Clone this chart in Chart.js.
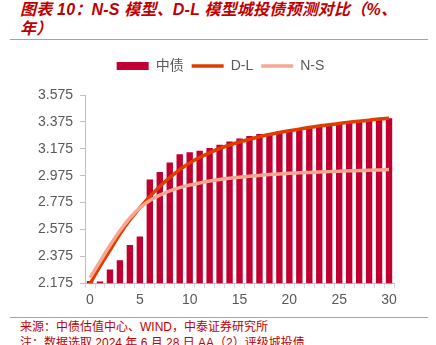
<!DOCTYPE html>
<html>
<head>
<meta charset="utf-8">
<script src="https://cdn.jsdelivr.net/npm/chart.js@4.4.1/dist/chart.umd.min.js"></script>
<style>
  body { margin: 0; width: 436px; height: 345px; overflow: hidden; background: #fff; position: relative; }
  .title {
    position: absolute; left: 20px; top: 0px; width: 410px;
    font-family: "Liberation Sans", "Noto Sans CJK SC", sans-serif;
    font-weight: bold; font-style: italic; font-size: 16px; line-height: 19px;
    color: #c00000; white-space: nowrap; letter-spacing: 0.2px;
  }
  .rule { position: absolute; left: 10px; width: 418px; height: 1px; background: #e28a8a; }
  .source {
    position: absolute; left: 20px; top: 319px;
    font-family: "Liberation Sans", "Noto Sans CJK SC", sans-serif;
    font-size: 12px; line-height: 16px; color: #c00000; white-space: nowrap;
  }
  #wrap { position: absolute; left: 0; top: 48px; width: 436px; height: 266px; }
</style>
</head>
<body>
<div class="title">图表 10：N-S 模型、D-L 模型城投债预测对比（%、<br>年）</div>
<div class="rule" style="top:39px"></div>
<div id="wrap"><canvas id="curveCanvas"></canvas></div>
<div class="rule" style="top:317px"></div>
<div class="source">来源：中债估值中心、WIND，中泰证券研究所<br>注：数据选取 2024 年 6 月 28 日 AA（2）评级城投债</div>
<script>
// term in years
var years = ["0","1","2","3","4","5","6","7","8","9","10","11","12","13","14","15",
	"16","17","18","19","20","21","22","23","24","25","26","27","28","29","30"];

// ChinaBond valuation curve
var cbData = [2.192, 2.188, 2.276, 2.346, 2.460, 2.523, 2.947, 3.002, 3.072, 3.135, 3.150,
	3.160, 3.181, 3.205, 3.230, 3.252, 3.270, 3.285, 3.293, 3.303, 3.313,
	3.323, 3.333, 3.343, 3.352, 3.360, 3.368, 3.377, 3.385, 3.393, 3.402];

// Diebold-Li fitted curve
var dlData = [2.170, 2.300, 2.420, 2.540, 2.645, 2.735, 2.820, 2.895, 2.960, 3.020, 3.070,
	3.110, 3.145, 3.177, 3.202, 3.225, 3.245, 3.264, 3.281, 3.296, 3.309,
	3.321, 3.333, 3.344, 3.354, 3.363, 3.372, 3.380, 3.388, 3.396, 3.403];

// Nelson-Siegel fitted curve
var nsData = [2.215, 2.335, 2.455, 2.565, 2.660, 2.735, 2.790, 2.830, 2.862, 2.886, 2.905,
	2.921, 2.935, 2.946, 2.956, 2.964, 2.971, 2.977, 2.983, 2.988, 2.992,
	2.996, 2.999, 3.002, 3.005, 3.008, 3.011, 3.013, 3.015, 3.018, 3.020];

var yTicks = [2.175, 2.375, 2.575, 2.775, 2.975, 3.175, 3.375, 3.575];

var textGrey = "#595959";
var axisGrey = "#bfbfbf";

// extra room under the legend, and nudge it right of the padded box
var legendTweak = {
	id: "legendTweak",
	beforeInit: function(chart) {
		var fit = chart.legend.fit;
		chart.legend.fit = function() {
			fit.bind(chart.legend)();
			this.height += 12;
		};
	},
	afterLayout: function(chart) {
		chart.legend.left += 8;
		chart.legend.right += 8;
	}
};

var ctx = document.getElementById("curveCanvas").getContext("2d");
var chart = new Chart(ctx, {
	data: {
		labels: years,
		datasets: [
			{
				type: "bar",
				label: "中债",
				data: cbData,
				backgroundColor: "#c00030",
				borderWidth: 0,
				barPercentage: 0.64,
				categoryPercentage: 1,
				order: 3
			},
			{
				type: "line",
				label: "D-L",
				data: dlData,
				borderColor: "#e03c00",
				backgroundColor: "#e03c00",
				borderWidth: 3.5,
				pointRadius: 0,
				cubicInterpolationMode: "monotone",
				order: 2
			},
			{
				type: "line",
				label: "N-S",
				data: nsData,
				borderColor: "#f9a690",
				backgroundColor: "#f9a690",
				borderWidth: 3.5,
				pointRadius: 0,
				cubicInterpolationMode: "monotone",
				order: 1
			}
		]
	},
	options: {
		responsive: true,
		maintainAspectRatio: false,
		animation: false,
		layout: { padding: { top: 3, left: 31, right: 42, bottom: 1 } },
		plugins: {
			tooltip: { enabled: false },
			legend: {
				position: "top",
				labels: {
					usePointStyle: true,
					pointStyleWidth: 32,
					boxHeight: 8,
					padding: 8,
					color: textGrey,
					font: { family: "'Liberation Sans', 'Noto Sans CJK SC', sans-serif", size: 14 },
					sort: function(a, b) { return a.datasetIndex - b.datasetIndex; },
					generateLabels: function(chart) {
						var items = Chart.defaults.plugins.legend.labels.generateLabels(chart);
						items.forEach(function(item) {
							if (item.datasetIndex === 0) {
								item.pointStyle = "rect";
								item.lineWidth = 0;
							} else {
								item.pointStyle = "line";
								item.lineWidth = 3.5;
							}
						});
						return items;
					}
				}
			}
		},
		scales: {
			x: {
				offset: true,
				grid: { display: true, drawOnChartArea: false, offset: true, tickLength: 5, color: "#d9d9d9" },
				border: { color: axisGrey },
				ticks: {
					autoSkip: false,
					maxRotation: 0,
					padding: 4,
					color: textGrey,
					font: { family: "'Liberation Sans', sans-serif", size: 14 },
					callback: function(value, index) {
						return index % 5 === 0 ? years[index] : "";
					}
				}
			},
			y: {
				min: 2.175,
				max: 3.575,
				afterBuildTicks: function(axis) {
					axis.ticks = yTicks.map(function(v) { return { value: v }; });
				},
				grid: { display: true, drawOnChartArea: false, tickLength: 5, color: axisGrey },
				border: { color: axisGrey },
				ticks: {
					padding: 7,
					color: textGrey,
					font: { family: "'Liberation Sans', sans-serif", size: 14 },
					callback: function(value) { return value.toFixed(3); }
				}
			}
		}
	},
	plugins: [legendTweak]
});
</script>
</body>
</html>
